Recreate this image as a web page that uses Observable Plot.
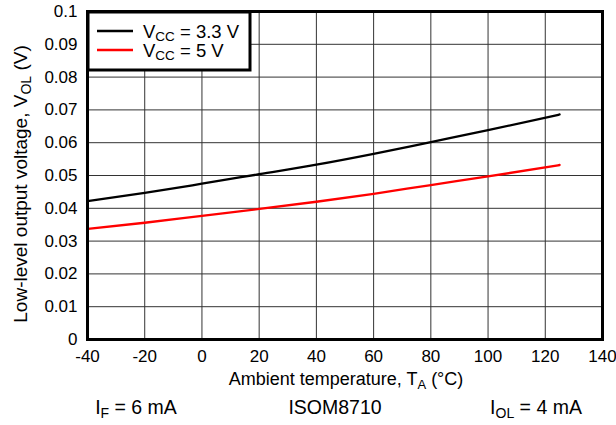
<!DOCTYPE html>
<html>
<head>
<meta charset="utf-8">
<script src="https://cdn.jsdelivr.net/npm/d3@7"></script>
<script src="https://cdn.jsdelivr.net/npm/@observablehq/plot@0.6"></script>
<style>
  html, body { margin: 0; padding: 0; background: #fff; }
  body { width: 616px; font-family: "Liberation Sans", Arial, sans-serif; }
  #chart svg { display: block; }
  #caption { position: relative; width: 616px; height: 30px; font-size: 19.5px; color: #000; }
  #caption span { position: absolute; top: 0px; transform: translateX(-50%); white-space: nowrap; line-height: 24px; }
  sub { font-size: 14px; vertical-align: -4px; line-height: 0; }
</style>
</head>
<body>
<div id="chart"></div>
<div id="caption">
  <span style="left:136px">I<sub>F</sub> = 6 mA</span>
  <span style="left:335px">ISOM8710</span>
  <span style="left:536px">I<sub>OL</sub> = 4 mA</span>
</div>
<script>
const temps = [-40, -20, 0, 20, 40, 60, 80, 100, 125];
const vcc33 = [0.0422, 0.0447, 0.0475, 0.0504, 0.0533, 0.0566, 0.0602, 0.0638, 0.0686];
const vcc5  = [0.0337, 0.0356, 0.0377, 0.0398, 0.0420, 0.0444, 0.0471, 0.0497, 0.0532];
const xTicks = [-40, -20, 0, 20, 40, 60, 80, 100, 120, 140];
const yTicks = [0, 0.01, 0.02, 0.03, 0.04, 0.05, 0.06, 0.07, 0.08, 0.09, 0.1];
const seriesNames = ["VCC = 3.3 V", "VCC = 5 V"];
const seriesColors = ["#000000", "#ff0000"];

const rows = [];
temps.forEach((t, i) => {
  rows.push({T: t, V: vcc33[i], s: seriesNames[0]});
  rows.push({T: t, V: vcc5[i], s: seriesNames[1]});
});

const plot = Plot.plot({
  width: 616,
  height: 395,
  marginLeft: 87,
  marginRight: 14,
  marginTop: 11,
  marginBottom: 56,
  style: {fontFamily: "Liberation Sans, Arial, sans-serif", fontSize: "17px", color: "#000", background: "#fff"},
  x: {domain: [-40, 140], ticks: xTicks, tickSize: 0, tickPadding: 10, tickFormat: d => String(d), label: null},
  y: {domain: [0, 0.1], ticks: yTicks, tickSize: 0, tickPadding: 10, tickFormat: d => String(+d.toFixed(2)), label: null},
  color: {domain: seriesNames, range: seriesColors},
  marks: [
    Plot.gridX(xTicks, {stroke: "#333", strokeOpacity: 1, strokeWidth: 1}),
    Plot.gridY(yTicks, {stroke: "#333", strokeOpacity: 1, strokeWidth: 1}),
    Plot.line(rows, {x: "T", y: "V", z: "s", stroke: "s", strokeWidth: 2.3, curve: "monotone-x"}),
    Plot.frame({stroke: "#000", strokeWidth: 3})
  ]
});
document.getElementById("chart").appendChild(plot);

const svg = d3.select(plot);
// axis titles with subscripts
const xl = svg.append("text").attr("x", 346).attr("y", 385).attr("text-anchor", "middle")
  .attr("font-size", 18).attr("fill", "#000");
xl.append("tspan").text("Ambient temperature, T");
xl.append("tspan").attr("font-size", 13).attr("dy", 4).text("A");
xl.append("tspan").attr("dy", -4).text(" (°C)");

const yl = svg.append("text").attr("transform", "translate(27,184) rotate(-90)").attr("text-anchor", "middle")
  .attr("font-size", 19).attr("fill", "#000");
yl.append("tspan").text("Low-level output voltage, V");
yl.append("tspan").attr("font-size", 14).attr("dy", 4).text("OL");
yl.append("tspan").attr("dy", -4).text(" (V)");

// legend
const lg = svg.append("g");
lg.append("rect").attr("x", 88).attr("y", 12).attr("width", 162).attr("height", 58)
  .attr("fill", "#fff").attr("stroke", "#000").attr("stroke-width", 3);
seriesNames.forEach((name, i) => {
  const cy = 31 + i * 19;
  lg.append("line").attr("x1", 97).attr("x2", 133).attr("y1", cy).attr("y2", cy)
    .attr("stroke", seriesColors[i]).attr("stroke-width", 2.3);
  const t = lg.append("text").attr("x", 143).attr("y", cy + 6.5).attr("text-anchor", "start")
    .attr("font-size", 18.5).attr("fill", "#000");
  t.append("tspan").text("V");
  t.append("tspan").attr("font-size", 13.5).attr("dy", 3.5).text("CC");
  t.append("tspan").attr("dy", -3.5).text(name.replace("VCC", ""));
});
</script>
</body>
</html>
